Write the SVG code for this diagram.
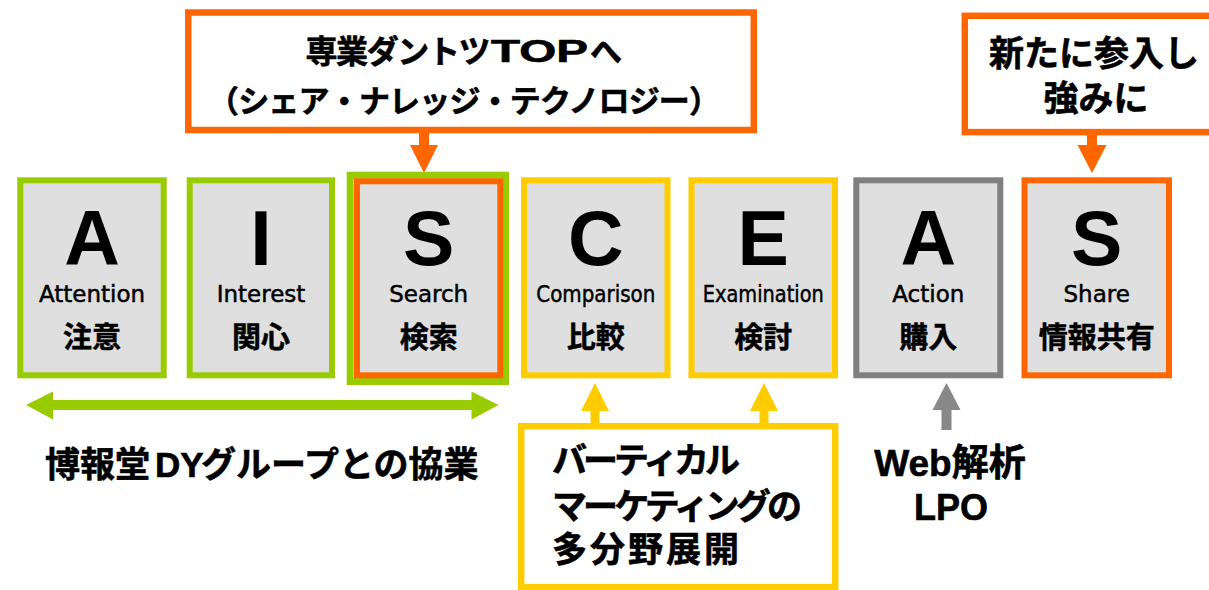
<svg xmlns="http://www.w3.org/2000/svg" width="1209" height="590" viewBox="0 0 1209 590">
<defs>
<style>
.box{fill:#dfdfdf;stroke-width:6}
.g{stroke:#99cc00}.o{stroke:#ff6600}.y{stroke:#ffcc00}.k{stroke:#808080}
.frame{fill:#ffffff;stroke-width:6.5}
.big{font-family:"Liberation Sans",Arial,sans-serif;font-weight:bold;font-size:77px;fill:#000;text-anchor:middle}
.en{font-family:"DejaVu Sans","Liberation Sans",sans-serif;font-size:23px;fill:#000;stroke:#000;stroke-width:0.5;text-anchor:middle}
.jp{font-family:"Noto Sans CJK JP",sans-serif;font-weight:bold;font-size:29px;fill:#000;stroke:#000;stroke-width:0.5;text-anchor:middle}
.t{font-family:"Liberation Sans","Noto Sans CJK JP",sans-serif;font-weight:bold;fill:#000;stroke:#000;stroke-width:0.6}
</style>
</defs>
<rect width="1209" height="590" fill="#ffffff"/>

<g id="connectors">
<polygon fill="#ff6600" points="419,133 429,133 429,145 438,145 424,173 410,145 419,145"/>
<polygon fill="#ff6600" points="1087,135 1097,135 1097,145 1106.5,145 1092,173 1077.5,145 1087,145"/>
<polygon fill="#99cc00" points="26,405 53,391.5 53,400 471.5,400 471.5,391.5 498.5,405 471.5,419.5 471.5,410 53,410 53,419.5"/>
<polygon fill="#ffcc00" points="595,383 609,411 599.5,411 599.5,424 590.5,424 590.5,411 581,411"/>
<polygon fill="#ffcc00" points="764,383 778,411 768.5,411 768.5,424 759.5,424 759.5,411 750,411"/>
<polygon fill="#888888" points="946.5,383 960.5,410 951.5,410 951.5,430 941.5,430 941.5,410 932.5,410"/>
</g>

<g id="note-top">
<rect class="frame o" x="188.3" y="12.5" width="565.5" height="117.5"/>
<text class="t" y="63" font-size="32"><tspan x="305.5" textLength="185" lengthAdjust="spacing">専業ダントツ</tspan></text>
<text class="t" x="491" y="62" font-size="31" textLength="97" lengthAdjust="spacingAndGlyphs">TOP</text>
<text class="t" x="590" y="63" font-size="32">へ</text>
<text class="t" x="208" y="112" font-size="31" textLength="512" lengthAdjust="spacing">（シェア・ナレッジ・テクノロジー）</text>
</g>

<g id="note-share">
<rect class="frame o" x="964.8" y="15.8" width="270" height="116.3" stroke-width="6"/>
<text class="t" x="1094" y="66" font-size="35" text-anchor="middle">新たに参入し</text>
<text class="t" x="1096" y="111" font-size="35" text-anchor="middle">強みに</text>
</g>

<g id="node-attention">
<rect class="box g" x="20.3" y="180.3" width="143.4" height="195"/>
<text class="big" x="92" y="265">A</text>
<text class="en" x="92" y="302">Attention</text>
<text class="jp" x="92" y="348">注意</text>
</g>

<g id="node-interest">
<rect class="box g" x="189.7" y="180.3" width="142.3" height="195"/>
<text class="big" x="261" y="265">I</text>
<text class="en" x="261" y="302">Interest</text>
<text class="jp" x="261" y="348">関心</text>
</g>

<g id="node-search">
<rect x="350.2" y="175.2" width="155.3" height="206.3" fill="none" stroke="#99cc00" stroke-width="7"/>
<rect class="box o" x="357" y="181.3" width="143.3" height="194"/>
<text class="big" x="428.7" y="265">S</text>
<text class="en" x="428.7" y="302">Search</text>
<text class="jp" x="428.7" y="348">検索</text>
</g>

<g id="node-comparison">
<rect class="box y" x="524" y="180.3" width="143.5" height="195"/>
<text class="big" x="595.8" y="265">C</text>
<text class="en" x="595.8" y="302" textLength="119" lengthAdjust="spacingAndGlyphs">Comparison</text>
<text class="jp" x="595.8" y="348">比較</text>
</g>

<g id="node-examination">
<rect class="box y" x="691.5" y="180.3" width="143.5" height="195"/>
<text class="big" x="763.3" y="265">E</text>
<text class="en" x="763.3" y="302" textLength="121" lengthAdjust="spacingAndGlyphs">Examination</text>
<text class="jp" x="763.3" y="348">検討</text>
</g>

<g id="node-action">
<rect class="box k" x="856.3" y="180.3" width="144" height="195"/>
<text class="big" x="928.3" y="265">A</text>
<text class="en" x="928.3" y="302">Action</text>
<text class="jp" x="928.3" y="348">購入</text>
</g>

<g id="node-share">
<rect class="box o" x="1024.5" y="180.3" width="144.5" height="195"/>
<text class="big" x="1096.7" y="265">S</text>
<text class="en" x="1096.7" y="302">Share</text>
<text class="jp" x="1096.7" y="348">情報共有</text>
</g>

<g id="label-hakuhodo">
<text class="t" y="477" font-size="35"><tspan x="45">博報堂</tspan><tspan x="155">DY</tspan><tspan x="201">グループとの協業</tspan></text>
</g>

<g id="note-vertical">
<rect class="frame y" x="521.2" y="426.2" width="314" height="161"/>
<text class="t" x="552" y="473" font-size="35" textLength="188" lengthAdjust="spacing">バーティカル</text>
<text class="t" x="552" y="519" font-size="35" textLength="250" lengthAdjust="spacing">マーケティングの</text>
<text class="t" x="552" y="562" font-size="35" textLength="187" lengthAdjust="spacing">多分野展開</text>
</g>

<g id="label-web">
<text class="t" x="950" y="476" font-size="37" text-anchor="middle">Web解析</text>
<text class="t" x="951" y="520" font-size="36" text-anchor="middle">LPO</text>
</g>
</svg>
